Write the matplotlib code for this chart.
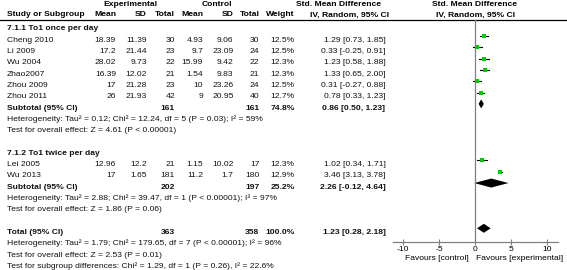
import matplotlib
matplotlib.use("Agg")

import matplotlib.pyplot as plt

# ---- data ------------------------------------------------------------------
studies = ["Cheng 2010", "Li 2009", "Wu 2004", "Zhao2007", "Zhou 2009",
           "Zhou 2011", "Lei 2005", "Wu 2013"]
group = [0, 0, 0, 0, 0, 0, 1, 1]
exp_mean = [18.39, 17.2, 28.02, 16.39, 17, 26, 12.96, 17]
exp_sd = [11.39, 21.44, 9.73, 12.02, 21.28, 21.93, 12.2, 1.65]
exp_n = [30, 23, 22, 21, 23, 42, 21, 181]
ctl_mean = [4.93, 9.7, 15.99, 1.54, 10, 9, 1.15, 11.2]
ctl_sd = [9.06, 23.09, 9.42, 9.83, 23.26, 20.95, 10.02, 1.7]
ctl_n = [30, 24, 22, 21, 24, 40, 17, 180]
weight = [12.5, 12.5, 12.3, 12.3, 12.5, 12.7, 12.3, 12.9]
smd = [1.29, 0.33, 1.23, 1.33, 0.31, 0.78, 1.02, 3.46]
ci_lo = [0.73, -0.25, 0.58, 0.65, -0.27, 0.33, 0.34, 3.13]
ci_hi = [1.85, 0.91, 1.88, 2.00, 0.88, 1.23, 1.71, 3.78]

group_titles = ["7.1.1 To1 once per day", "7.1.2 To1 twice per day"]
sub_exp_n = [161, 202]
sub_ctl_n = [161, 197]
sub_weight = [74.8, 25.2]
sub_smd = [0.86, 2.26]
sub_lo = [0.50, -0.12]
sub_hi = [1.23, 4.64]
sub_het = [
    "Heterogeneity: Tau\u00b2 = 0.12; Chi\u00b2 = 12.24, df = 5 (P = 0.03); I\u00b2 = 59%",
    "Heterogeneity: Tau\u00b2 = 2.88; Chi\u00b2 = 39.47, df = 1 (P < 0.00001); I\u00b2 = 97%",
]
sub_test = [
    "Test for overall effect: Z = 4.61 (P < 0.00001)",
    "Test for overall effect: Z = 1.86 (P = 0.06)",
]

tot_exp_n, tot_ctl_n, tot_weight = 363, 358, 100.0
tot_smd, tot_lo, tot_hi = 1.23, 0.28, 2.18
tot_notes = [
    "Heterogeneity: Tau\u00b2 = 1.79; Chi\u00b2 = 179.65, df = 7 (P < 0.00001); I\u00b2 = 96%",
    "Test for overall effect: Z = 2.53 (P = 0.01)",
    "Test for subgroup differences: Chi\u00b2 = 1.29, df = 1 (P = 0.26), I\u00b2 = 22.6%",
]
ticks = [-10, -5, 0, 5, 10]
favours = ["Favours [control]", "Favours [experimental]"]

# ---- layout -----------------------------------------------------------------
W, H = 567, 270
FS = 6.1
GREEN = "#00cc00"
GREY = "#808080"
plt.rcParams["font.family"] = ["Liberation Sans", "DejaVu Sans"]
plt.rcParams["axes.unicode_minus"] = False

# right edges (pixels) of the numeric columns
COL = dict(name=7, em=116, esd=147, en=175, cm=203, csd=233.5, cn=259.5,
           w=294.5, ci=385.5)


def row_y(k):
    return 13.4 + 11.31 * k


def fmt(v):
    return f"{v:g}"


fig = plt.figure(figsize=(W / 100, H / 100), dpi=100)
tx = fig.add_axes([0, 0, 1, 1])
tx.set_xlim(0, W)
tx.set_ylim(H, 0)
tx.axis("off")

# forest panel: pixel 393..558 horizontally, 20..241.7 vertically
x0, x1, y0, y1 = 393, 558, 20, 241.7
fx = fig.add_axes([x0 / W, (H - y1) / H, (x1 - x0) / W, (y1 - y0) / H])
fx.set_xlim((x0 - 475) / 7.2, (x1 - 475) / 7.2)
fx.set_ylim(y1, y0)
fx.patch.set_alpha(0)
for s in ("top", "left", "right"):
    fx.spines[s].set_visible(False)
fx.spines["bottom"].set_color(GREY)
fx.spines["bottom"].set_linewidth(0.9)
fx.set_yticks([])
fx.set_xticks(ticks)
fx.set_xticklabels([str(t) for t in ticks], fontsize=FS)
fx.tick_params(axis="x", direction="inout", length=4, width=0.8, color=GREY,
               pad=1)
fx.axvline(0, color=GREY, lw=0.9)


def put(x, k, s, ha="right", bold=False):
    tx.text(x, row_y(k) + 5.7, s, ha=ha, va="baseline", fontsize=FS,
            fontweight="bold" if bold else "normal", color="#111111")


def diamond(k, est, lo, hi):
    yc = row_y(k)
    fx.fill([lo, est, hi, est], [yc, yc - 4.5, yc, yc + 4.5], color="black",
            lw=0)


# headers
tx.text(130, 5, "Experimental", ha="center", va="center", fontsize=FS,
        fontweight="bold")
tx.text(217, 5, "Control", ha="center", va="center", fontsize=FS,
        fontweight="bold")
tx.text(339, 5, "Std. Mean Difference", ha="center", va="center", fontsize=FS,
        fontweight="bold")
tx.text(475, 5, "Std. Mean Difference", ha="center", va="center", fontsize=FS,
        fontweight="bold")
hdr = [("name", "Study or Subgroup", "left"), ("em", "Mean", "right"),
       ("esd", "SD", "right"), ("en", "Total", "right"),
       ("cm", "Mean", "right"), ("csd", "SD", "right"),
       ("cn", "Total", "right"), ("w", "Weight", "right")]
for key, lab, ha in hdr:
    tx.text(COL[key], 15, lab, ha=ha, va="center", fontsize=FS,
            fontweight="bold")
tx.text(349, 15, "IV, Random, 95% CI", ha="center", va="center", fontsize=FS,
        fontweight="bold")
tx.text(475, 15, "IV, Random, 95% CI", ha="center", va="center", fontsize=FS,
        fontweight="bold")
tx.plot([0, W], [20, 20], color="black", lw=0.9)

# body
k = 1
for g in range(len(group_titles)):
    put(COL["name"], k, group_titles[g], ha="left", bold=True)
    k += 1
    for i in [j for j in range(len(studies)) if group[j] == g]:
        put(COL["name"], k, studies[i], ha="left")
        put(COL["em"], k, fmt(exp_mean[i]))
        put(COL["esd"], k, fmt(exp_sd[i]))
        put(COL["en"], k, str(exp_n[i]))
        put(COL["cm"], k, fmt(ctl_mean[i]))
        put(COL["csd"], k, fmt(ctl_sd[i]))
        put(COL["cn"], k, str(ctl_n[i]))
        put(COL["w"], k, f"{weight[i]:.1f}%")
        put(COL["ci"], k, f"{smd[i]:.2f} [{ci_lo[i]:.2f}, {ci_hi[i]:.2f}]")
        fx.plot([ci_lo[i], ci_hi[i]], [row_y(k)] * 2, color="black", lw=0.8)
        fx.plot(smd[i], row_y(k), "s", color=GREEN, ms=3, mew=0)
        k += 1
    put(COL["name"], k, "Subtotal (95% CI)", ha="left", bold=True)
    put(COL["en"], k, str(sub_exp_n[g]), bold=True)
    put(COL["cn"], k, str(sub_ctl_n[g]), bold=True)
    put(COL["w"], k, f"{sub_weight[g]:.1f}%", bold=True)
    put(COL["ci"], k, f"{sub_smd[g]:.2f} [{sub_lo[g]:.2f}, {sub_hi[g]:.2f}]",
        bold=True)
    diamond(k, sub_smd[g], sub_lo[g], sub_hi[g])
    put(COL["name"], k + 1, sub_het[g], ha="left")
    put(COL["name"], k + 2, sub_test[g], ha="left")
    k += 4

put(COL["name"], k, "Total (95% CI)", ha="left", bold=True)
put(COL["en"], k, str(tot_exp_n), bold=True)
put(COL["cn"], k, str(tot_ctl_n), bold=True)
put(COL["w"], k, f"{tot_weight:.1f}%", bold=True)
put(COL["ci"], k, f"{tot_smd:.2f} [{tot_lo:.2f}, {tot_hi:.2f}]", bold=True)
diamond(k, tot_smd, tot_lo, tot_hi)
for j, note in enumerate(tot_notes):
    put(COL["name"], k + 1 + j, note, ha="left")

tx.text(469, 258.3, favours[0], ha="right", va="center", fontsize=FS)
tx.text(476, 258.3, favours[1], ha="left", va="center", fontsize=FS)

fig.savefig("out.png", dpi=100)
